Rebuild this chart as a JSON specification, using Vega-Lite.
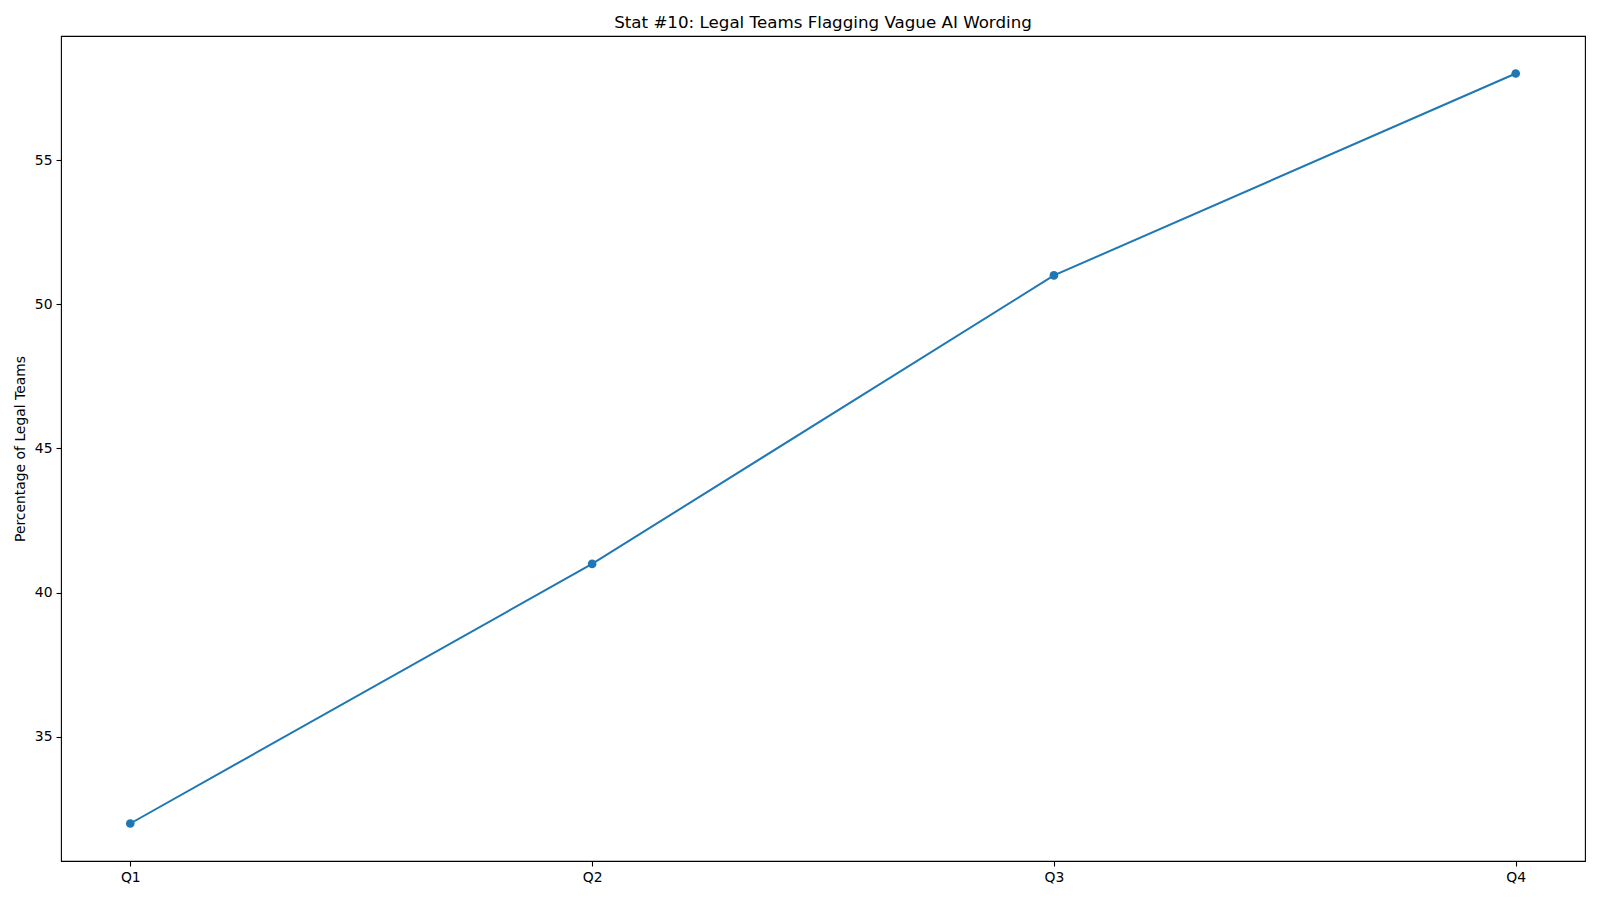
{
  "$schema": "https://vega.github.io/schema/vega-lite/v6.json",
  "autosize": {"type": "none"},
  "padding": {"left": 61, "top": 36, "right": 15, "bottom": 39},
  "width": 1524,
  "height": 825,
  "background": "white",
  "title": {
    "text": "Stat #10: Legal Teams Flagging Vague AI Wording",
    "font": "DejaVu Sans",
    "fontSize": 16.7,
    "fontWeight": "normal",
    "color": "black",
    "offset": 4
  },
  "config": {
    "view": {"stroke": "black", "strokeWidth": 1.1},
    "axis": {
      "labelFont": "DejaVu Sans",
      "labelFontSize": 13.9,
      "labelColor": "black",
      "titleFont": "DejaVu Sans",
      "titleFontSize": 13.9,
      "titleFontWeight": "normal",
      "titleColor": "black",
      "tickColor": "black",
      "tickSize": 5,
      "tickWidth": 1.1,
      "labelPadding": 4,
      "domain": false,
      "grid": false
    }
  },
  "data": {
    "values": [
      {"quarter": "Q1", "pct": 32},
      {"quarter": "Q2", "pct": 41},
      {"quarter": "Q3", "pct": 51},
      {"quarter": "Q4", "pct": 58}
    ]
  },
  "encoding": {
    "x": {
      "field": "quarter",
      "type": "ordinal",
      "sort": null,
      "scale": {"type": "point", "padding": 0.15},
      "axis": {"title": null, "labelAngle": 0}
    },
    "y": {
      "field": "pct",
      "type": "quantitative",
      "scale": {"domain": [30.7, 59.3], "nice": false, "zero": false},
      "axis": {"title": "Percentage of Legal Teams", "values": [35, 40, 45, 50, 55], "titlePadding": 7}
    }
  },
  "layer": [
    {"mark": {"type": "line", "color": "#1f77b4", "strokeWidth": 2}},
    {"mark": {"type": "point", "filled": true, "color": "#1f77b4", "size": 75, "opacity": 1}}
  ]
}
